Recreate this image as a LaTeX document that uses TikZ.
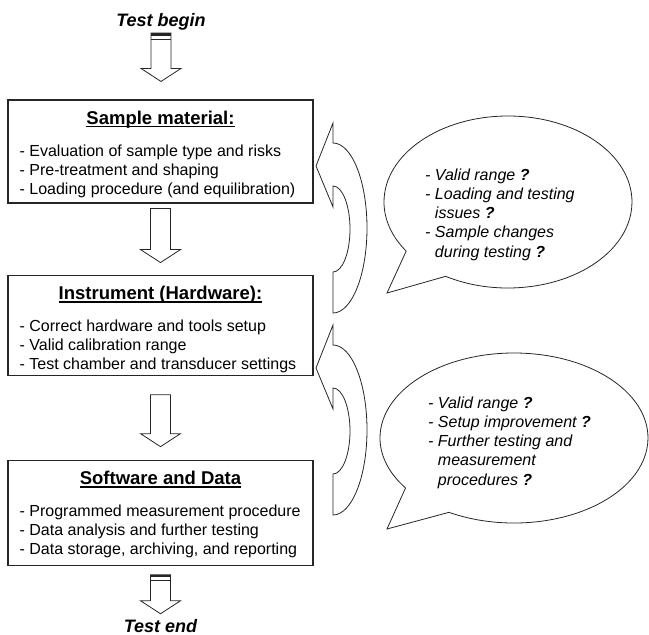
\documentclass[tikz,border=0pt]{standalone}
\usepackage{fontspec}
\setmainfont{Liberation Sans}
\usepackage{tikz}
\usetikzlibrary{calc,positioning,shapes.callouts}

\newsavebox\titlebox
\newcommand{\titleul}[1]{\sbox\titlebox{#1}\rlap{\rule[-3pt]{\wd\titlebox}{1.3pt}}\usebox\titlebox}

\tikzset{
    %Define style for the stage boxes
    stage/.style={
           rectangle,
           draw=black!85, line width=1.1pt,
           minimum width=305pt,
           inner sep=0pt},
    stagetitle/.style={
           anchor=base,
           inner sep=0pt,
           font=\fontsize{18.5}{22}\selectfont\bfseries},
    stagetext/.style={
           anchor=north west,
           inner sep=0pt,
           align=left,
           font=\fontsize{16}{19}\selectfont},
    terminal/.style={
           anchor=base,
           inner sep=0pt,
           font=\fontsize{18}{22}\selectfont\bfseries\itshape},
    %Define style for the speech bubbles
    bubble/.style={
           ellipse callout,
           draw=black!85, line width=0.8pt,
           callout pointer arc=25},
    asktext/.style={
           anchor=north west,
           inner sep=0pt,
           align=left,
           font=\fontsize{16}{19.3}\selectfont\itshape},
    % Define hollow block arrow
    flow/.style={
           draw=black!85, line width=0.8pt,
           to path={let \p1=(\tikztostart), \p2=(\tikztotarget) in
              (\x1-10pt,\y1) -- (\x1-10pt,\y2+13pt) -- (\x1-20pt,\y2+13pt) -- (\x1,\y2)
              -- (\x1+20pt,\y2+13pt) -- (\x1+10pt,\y2+13pt) -- (\x1+10pt,\y1) -- cycle}},
    bar/.style={draw=black!85, line width=2.6pt},
    % Define curved feedback arrow
    feedback/.pic={
           \draw[draw=black!85, line width=0.8pt] (0,0) -- (17,43) -- (17,23)
              arc[start angle=90, end angle=-90, x radius=34pt, y radius=85pt] -- (17,-106)
              arc[start angle=-90, end angle=90, x radius=17pt, y radius=43pt] -- (17,-41) -- cycle;}
}

\begin{document}
\begin{tikzpicture}[x=1pt,y=1pt]
\useasboundingbox (0,0) rectangle (649,-635);

\node[stage, minimum height=103pt] (sample) at (160.5,-151.5) {};
\node[stage, minimum height=100pt, below=71pt of sample] (instr) {};
\node[stage, minimum height=105pt, below=84pt of instr] (soft) {};

\node[stagetitle] (sampleT) at ([yshift=-25pt]sample.north) {\titleul{Sample material:}};
\node[stagetitle] (instrT) at ([yshift=-25pt]instr.north) {\titleul{Instrument (Hardware):}};
\node[stagetitle] (softT) at ([yshift=-25pt]soft.north) {\titleul{Software and Data}};

\node[stagetext] (sampleB) at ([shift={(12pt,-45.4pt)}]sample.north west)
    {- Evaluation of sample type and risks\\- Pre-treatment and shaping\\- Loading procedure (and equilibration)};
\node[stagetext] (instrB) at ([shift={(12pt,-45.4pt)}]instr.north west)
    {- Correct hardware and tools setup\\- Valid calibration range\\- Test chamber and transducer settings};
\node[stagetext] (softB) at ([shift={(12pt,-45.4pt)}]soft.north west)
    {- Programmed measurement procedure\\- Data analysis and further testing\\- Data storage, archiving, and reporting};

\node[terminal] (testbegin) at (161,-26) {Test begin};
\node[terminal] (testend) at ([yshift=-67pt]soft.south) {Test end};

\coordinate (b0) at ([yshift=-7pt]testbegin.base);
\coordinate (b1) at ([yshift=-9pt]soft.south);

\draw[flow] (b0) to ([yshift=18pt]sample.north);
\draw[flow] ([yshift=-5pt]sample.south) to ([yshift=12pt]instr.north);
\draw[flow] ([yshift=-19pt]instr.south) to ([yshift=13pt]soft.north);
\draw[flow] (b1) to ([yshift=19pt]testend.base);

\draw[bar] ([shift={(-10.4pt,-1.3pt)}]b0) -- ([shift={(10.4pt,-1.3pt)}]b0);
\draw[draw=black!85] ([shift={(-10pt,-6pt)}]b0) -- ([shift={(10pt,-6pt)}]b0);
\draw[bar] ([shift={(-10.4pt,-1.3pt)}]b1) -- ([shift={(10.4pt,-1.3pt)}]b1);
\draw[draw=black!85] ([shift={(-10pt,-5pt)}]b1) -- ([shift={(10pt,-5pt)}]b1);

\pic at (316,-166) {feedback};
\pic at (316,-368) {feedback};

\node[bubble, minimum width=248pt, minimum height=172pt,
      callout absolute pointer={(387,-293)}] (ask1) at (508,-202) {};
\node[bubble, minimum width=268pt, minimum height=170pt,
      callout absolute pointer={(387,-529)}] (ask2) at (514,-438) {};

\node[asktext] (ask1T) at (425,-168.3)
    {- Valid range \textbf{?}\\- Loading and testing\\\hphantom{- }issues \textbf{?}\\- Sample changes\\\hphantom{- }during testing \textbf{?}};
\node[asktext] (ask2T) at (428,-396.3)
    {- Valid range \textbf{?}\\- Setup improvement \textbf{?}\\- Further testing and\\\hphantom{- }measurement\\\hphantom{- }procedures \textbf{?}};
\end{tikzpicture}
\end{document}
